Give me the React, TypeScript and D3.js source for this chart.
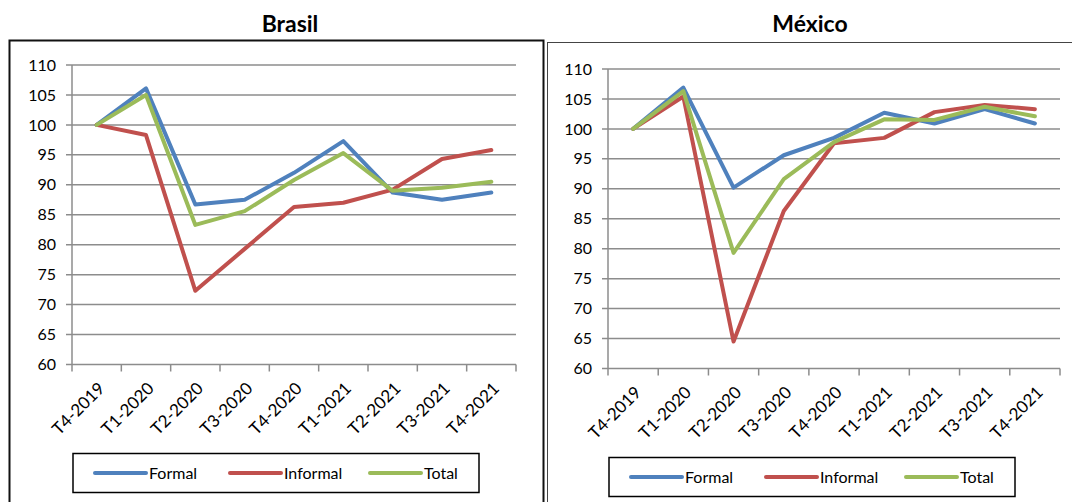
import * as d3 from "d3";
import React from "react";

// quarters shown on the x axis
const categories = [
  "T4-2019",
  "T1-2020",
  "T2-2020",
  "T3-2020",
  "T4-2020",
  "T1-2021",
  "T2-2021",
  "T3-2021",
  "T4-2021",
];

const yTicks = [60, 65, 70, 75, 80, 85, 90, 95, 100, 105, 110];

const seriesNames = ["Formal", "Informal", "Total"];
const seriesColors = ["#4F81BD", "#C0504D", "#9BBB59"];

// Brasil
const brasilFormal = [100, 106.1, 86.7, 87.5, 92, 97.3, 88.7, 87.5, 88.7];
const brasilInformal = [100, 98.3, 72.3, 79.3, 86.3, 87, 89.2, 94.3, 95.8];
const brasilTotal = [100, 105, 83.3, 85.6, 90.8, 95.3, 89, 89.5, 90.5];

// México
const mexicoFormal = [100, 106.9, 90.2, 95.6, 98.5, 102.7, 100.9, 103.3, 100.9];
const mexicoInformal = [100, 105.4, 64.5, 86.3, 97.6, 98.5, 102.8, 104, 103.3];
const mexicoTotal = [100, 106.3, 79.3, 91.6, 97.8, 101.6, 101.5, 103.7, 102.1];

const font = "Lato, 'Open Sans', sans-serif";
const gridColor = "#8c8c8c";

type PanelProps = {
  title: string;
  titleX: number;
  box: { x: number; y: number; w: number; h: number; stroke: string; sw: number };
  left: number;
  right: number;
  top: number;
  bottom: number;
  series: number[][];
};

function Panel({ title, titleX, box, left, right, top, bottom, series }: PanelProps) {
  const x = d3.scaleBand<string>().domain(categories).range([left, right]);
  const y = d3.scaleLinear().domain([60, 110]).range([bottom, top]);

  const line = d3
    .line<number>()
    .x((d, i) => (x(categories[i]) as number) + x.bandwidth() / 2)
    .y((d) => y(d));

  // category boundaries for tick marks
  const bounds = categories.map((c) => x(c) as number).concat([right]);

  const legendTop = bottom + 89;
  const legendLeft = left + 1;
  const legendOffsets = [22, 157, 297];

  return (
    <g>
      <text
        x={titleX}
        y={32}
        textAnchor="middle"
        fontFamily={font}
        fontWeight="bold"
        fontSize={23}
        fill="#000"
      >
        {title}
      </text>
      <rect
        x={box.x}
        y={box.y}
        width={box.w}
        height={box.h}
        fill="none"
        stroke={box.stroke}
        strokeWidth={box.sw}
      />

      {/* gridlines and y ticks */}
      {yTicks.map((t) => (
        <g key={t}>
          <line x1={left - 6} x2={right} y1={y(t)} y2={y(t)} stroke={gridColor} strokeWidth={1.5} />
          <text
            x={left - 16}
            y={y(t)}
            dy="0.35em"
            textAnchor="end"
            fontFamily={font}
            fontSize={16}
            fill="#000"
          >
            {t}
          </text>
        </g>
      ))}
      <line x1={left} x2={left} y1={top} y2={bottom} stroke={gridColor} strokeWidth={1.5} />

      {/* x ticks */}
      {bounds.map((b, i) => (
        <line key={i} x1={b} x2={b} y1={bottom} y2={bottom + 7} stroke={gridColor} strokeWidth={1.5} />
      ))}
      {categories.map((c) => {
        const cx = (x(c) as number) + x.bandwidth() / 2;
        return (
          <text
            key={c}
            transform={`translate(${cx + 9}, ${bottom + 25}) rotate(-45)`}
            textAnchor="end"
            fontFamily={font}
            fontSize={17}
            fill="#000"
          >
            {c}
          </text>
        );
      })}

      {/* series */}
      {series.map((s, i) => (
        <path
          key={seriesNames[i]}
          d={line(s) as string}
          fill="none"
          stroke={seriesColors[i]}
          strokeWidth={4}
          strokeLinejoin="round"
          strokeLinecap="round"
        />
      ))}

      {/* legend */}
      <rect
        x={legendLeft}
        y={legendTop}
        width={406}
        height={39}
        fill="#fff"
        stroke="#000"
        strokeWidth={1.5}
      />
      {seriesNames.map((n, i) => (
        <g key={n}>
          <line
            x1={legendLeft + legendOffsets[i]}
            x2={legendLeft + legendOffsets[i] + 51}
            y1={legendTop + 19.5}
            y2={legendTop + 19.5}
            stroke={seriesColors[i]}
            strokeWidth={4}
            strokeLinecap="round"
          />
          <text
            x={legendLeft + legendOffsets[i] + 54}
            y={legendTop + 19.5}
            dy="0.35em"
            fontFamily={font}
            fontSize={16}
            fill="#000"
          >
            {n}
          </text>
        </g>
      ))}
    </g>
  );
}

export default function App() {
  return (
    <svg
      width={1072}
      height={502}
      style={{ position: "absolute", left: 0, top: 0, display: "block", background: "#fff" }}
    >
      <Panel
        title="Brasil"
        titleX={290}
        box={{ x: 9.5, y: 40.5, w: 534, h: 480, stroke: "#111", sw: 2 }}
        left={72}
        right={516}
        top={65}
        bottom={364.5}
        series={[brasilFormal, brasilInformal, brasilTotal]}
      />
      <Panel
        title="México"
        titleX={810}
        box={{ x: 547.5, y: 42.5, w: 540, h: 480, stroke: "#444", sw: 1 }}
        left={608}
        right={1060}
        top={69}
        bottom={368.5}
        series={[mexicoFormal, mexicoInformal, mexicoTotal]}
      />
    </svg>
  );
}
